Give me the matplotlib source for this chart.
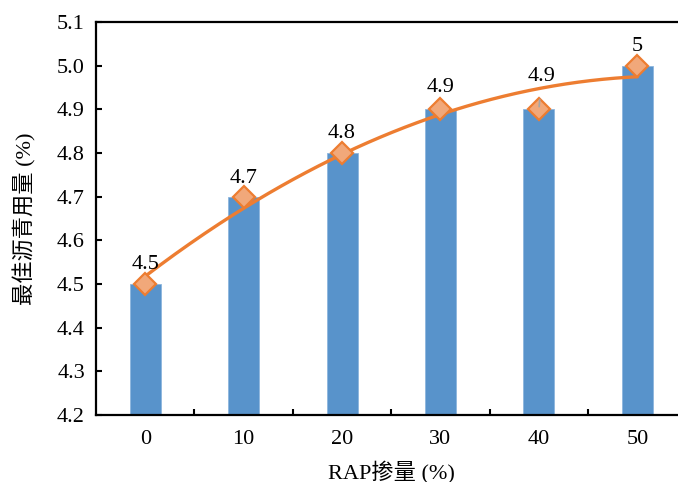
import numpy as np
import matplotlib
matplotlib.use("Agg")
import matplotlib.pyplot as plt

plt.rcParams['font.family'] = ['Liberation Serif', 'Noto Sans CJK SC']
plt.rcParams['font.size'] = 16

# RAP content (%) and optimum asphalt content (%)
rap_content = [0, 10, 20, 30, 40, 50]
asphalt_content = [4.5, 4.7, 4.8, 4.9, 4.9, 5.0]
value_labels = ["4.5", "4.7", "4.8", "4.9", "4.9", "5"]
y_ticks = [4.2, 4.3, 4.4, 4.5, 4.6, 4.7, 4.8, 4.9, 5.0, 5.1]

bar_color = '#5893CB'
line_color = '#ED7D31'
marker_face = '#F1A87A'

fig = plt.figure(figsize=(6.78, 4.82), dpi=100)
ax = fig.add_axes([0.1416, 0.139, 0.871, 0.815])

pos = np.arange(len(rap_content))
ax.bar(pos, asphalt_content, width=0.315, color=bar_color, edgecolor='#8DB6DE',
       linewidth=0.6, zorder=2)

# second-order polynomial trend line through the series
coef = np.polyfit(rap_content, asphalt_content, 2)
xs = np.linspace(min(rap_content), max(rap_content), 200)
ys = np.polyval(coef, xs)
xs_pos = xs / 10.0
ax.plot(xs_pos, ys, color=line_color, lw=2.4, zorder=3, solid_capstyle='round')

ax.plot(pos, asphalt_content, linestyle='none', marker='D', markersize=11.5,
        markerfacecolor=marker_face, markeredgecolor=line_color,
        markeredgewidth=1.6, zorder=4)

# data labels above the markers
offsets = [14, 13, 14, 16, 24, 14]
for p, v, lab, off in zip(pos, asphalt_content, value_labels, offsets):
    if off > 20:
        ax.annotate(lab, xy=(p, v), xytext=(2, off), textcoords='offset points',
                    ha='center', va='center', fontsize=16, zorder=5,
                    arrowprops=dict(arrowstyle='-', color='#A6A6A6', lw=1.2,
                                    shrinkA=8, shrinkB=2))
    else:
        ax.annotate(lab, xy=(p, v), xytext=(0, off), textcoords='offset points',
                    ha='center', va='center', fontsize=16, zorder=5)

ax.set_ylim(4.2, 5.1)
ax.set_yticks(y_ticks)
ax.set_yticklabels([f"{t:.1f}" for t in y_ticks])
ax.set_xlim(-0.5, len(rap_content) - 0.5)
ax.set_xticks(pos)
ax.set_xticklabels([str(r) for r in rap_content])
ax.set_xticks(pos[:-1] + 0.5, minor=True)

ax.tick_params(axis='y', direction='in', length=4, width=1.5, labelsize=16, pad=8)
ax.tick_params(axis='x', which='major', length=0, labelsize=16, pad=11)
ax.tick_params(axis='x', which='minor', direction='in', length=4, width=1.5)

for s in ax.spines.values():
    s.set_linewidth(1.6)
    s.set_color('black')

ax.set_ylabel("最佳沥青用量 (%)", fontsize=16, labelpad=15)
ax.set_xlabel("RAP掺量 (%)", fontsize=16, labelpad=8)

fig.savefig("out.png", dpi=100)
